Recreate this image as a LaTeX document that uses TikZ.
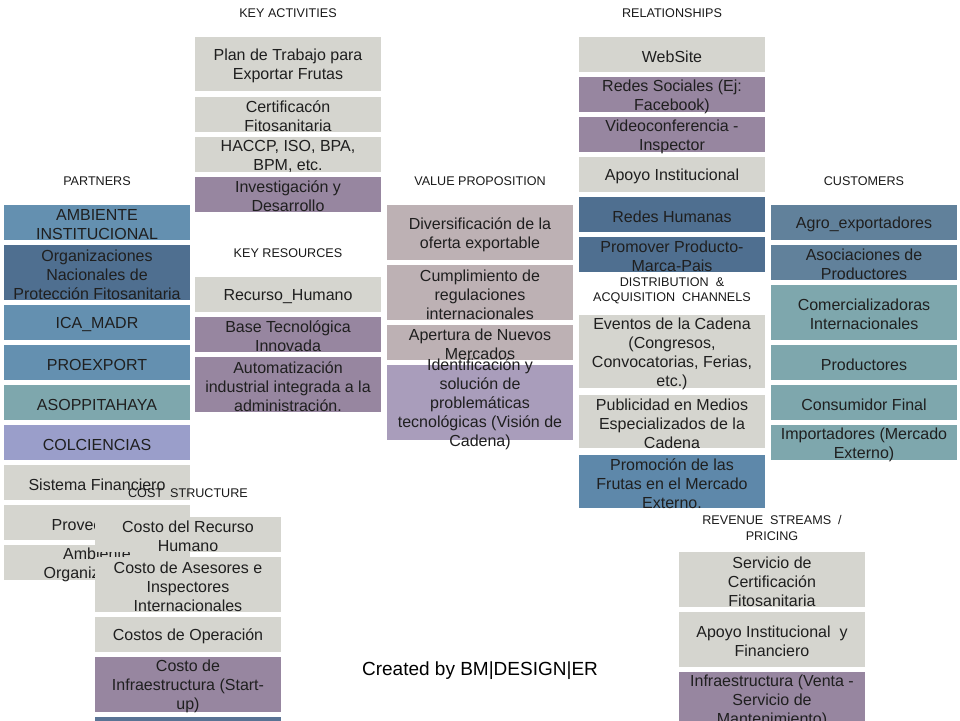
\documentclass[tikz,border=0pt]{standalone}
\usepackage{fontspec}
\setmainfont{Liberation Sans}
\begin{document}
\begin{tikzpicture}[x=1pt,y=-1pt,
  cell/.style={align=center,inner sep=0,yshift=-2pt,font=\fontsize{16}{19}\selectfont,text=black!88},
  hdr/.style={align=center,inner sep=0,font=\fontsize{12.6}{15.5}\selectfont,text=black!90}]
\definecolor{stone}{HTML}{D5D5CF}
\definecolor{plum}{HTML}{9786A0}
\definecolor{mauve}{HTML}{BDB1B4}
\definecolor{lilac}{HTML}{A99DBB}
\definecolor{slate}{HTML}{4F6F90}
\definecolor{steel}{HTML}{6490B0}
\definecolor{dusk}{HTML}{5E88AA}
\definecolor{fog}{HTML}{61819B}
\definecolor{teal}{HTML}{7EA7AD}
\definecolor{periwinkle}{HTML}{9A9ECA}
\definecolor{navyish}{HTML}{5A7495}
\useasboundingbox (0,0) rectangle (960,720);
\clip (0,0) rectangle (960,720);
% section titles
\node[hdr] (hka) at (288,13) {KEY ACTIVITIES};
\node[hdr] (hrel) at (672,13) {RELATIONSHIPS};
\node[hdr] (hpa) at (97,181) {PARTNERS};
\node[hdr] (hvp) at (480,181) {VALUE PROPOSITION};
\node[hdr] (hcu) at (864,181) {CUSTOMERS};
\node[hdr] (hkr) at (288,253) {KEY RESOURCES};
\node[hdr] (hdc) at (672,291) {DISTRIBUTION \ \&\\ACQUISITION \ CHANNELS};
\node[hdr] (hrs) at (772,528) {REVENUE \ STREAMS \ /\\PRICING};
% partners
\foreach \nm/\yy/\hh/\crlr/\txt in {pa1/205/35/steel/{AMBIENTE\\INSTITUCIONAL},
  pa2/245/55/slate/{Organizaciones\\Nacionales de\\Protección Fitosanitaria},
  pa3/305/35/steel/{ICA\_MADR}, pa4/345/35/steel/{PROEXPORT},
  pa5/385/35/teal/{ASOPPITAHAYA}, pa6/425/35/periwinkle/{COLCIENCIAS},
  pa7/465/35/stone/{Sistema Financiero}, pa8/505/35/stone/{Proveedores},
  pa9/545/35/stone/{Ambiente\\Organizacional}}
{ \fill[\crlr] (4,\yy) rectangle ++(186,\hh);
  \node[cell] (\nm) at (97,\yy+\hh/2) {\txt};}
% key activities
\foreach \nm/\yy/\hh/\crlr/\txt in {ka1/37/54/stone/{Plan de Trabajo para\\Exportar Frutas},
  ka2/97/35/stone/{Certificacón\\Fitosanitaria}, ka3/137/35/stone/{HACCP, ISO, BPA,\\BPM, etc.},
  ka4/177/35/plum/{Investigación y\\Desarrollo},
  kr1/277/35/stone/{Recurso\_Humano}, kr2/317/35/plum/{Base Tecnológica\\Innovada},
  kr3/357/55/plum/{Automatización\\industrial integrada a la\\administración.}}
{ \fill[\crlr] (195,\yy) rectangle ++(186,\hh);
  \node[cell] (\nm) at (288,\yy+\hh/2) {\txt};}
% value proposition
\foreach \nm/\yy/\hh/\crlr/\txt in {vp1/205/55/mauve/{Diversificación de la\\oferta exportable},
  vp2/265/55/mauve/{Cumplimiento de\\regulaciones\\internacionales},
  vp3/325/35/mauve/{Apertura de Nuevos\\Mercados},
  vp4/365/75/lilac/{Identificación y\\solución de\\problemáticas\\tecnológicas (Visión de\\Cadena)}}
{ \fill[\crlr] (387,\yy) rectangle ++(186,\hh);
  \node[cell] (\nm) at (480,\yy+\hh/2) {\txt};}
% relationships and channels
\foreach \nm/\yy/\hh/\crlr/\txt in {re1/37/35/stone/{WebSite},
  re2/77/35/plum/{Redes Sociales (Ej:\\Facebook)}, re3/117/35/plum/{Videoconferencia -\\Inspector},
  re4/157/35/stone/{Apoyo Institucional}, re5/197/35/slate/{Redes Humanas},
  re6/237/35/slate/{Promover Producto-\\Marca-Pais},
  dc1/315/73/stone/{Eventos de la Cadena\\(Congresos,\\Convocatorias, Ferias,\\etc.)},
  dc2/395/53/stone/{Publicidad en Medios\\Especializados de la\\Cadena},
  dc3/455/53/dusk/{Promoción de las\\Frutas en el Mercado\\Externo.}}
{ \fill[\crlr] (579,\yy) rectangle ++(186,\hh);
  \node[cell] (\nm) at (672,\yy+\hh/2) {\txt};}
% customers
\foreach \nm/\yy/\hh/\crlr/\txt in {cu1/205/35/fog/{Agro\_exportadores},
  cu2/245/35/fog/{Asociaciones de\\Productores}, cu3/285/55/teal/{Comercializadoras\\Internacionales},
  cu4/345/35/teal/{Productores}, cu5/385/35/teal/{Consumidor Final},
  cu6/425/35/teal/{Importadores (Mercado\\Externo)}}
{ \fill[\crlr] (771,\yy) rectangle ++(186,\hh);
  \node[cell] (\nm) at (864,\yy+\hh/2) {\txt};}
% cost structure
\node[hdr] (hcs) at (188,493) {COST \ STRUCTURE};
\foreach \nm/\yy/\hh/\crlr/\txt in {cs1/517/35/stone/{Costo del Recurso\\Humano},
  cs2/557/55/stone/{Costo de Asesores e\\Inspectores\\Internacionales},
  cs3/617/35/stone/{Costos de Operación},
  cs4/657/55/plum/{Costo de\\Infraestructura (Start-\\up)}, cs5/717/35/navyish/{}}
{ \fill[\crlr] (95,\yy) rectangle ++(186,\hh);
  \node[cell] (\nm) at (188,\yy+\hh/2) {\txt};}
% revenue streams
\foreach \nm/\yy/\hh/\crlr/\txt in {rs1/552/55/stone/{Servicio de\\Certificación\\Fitosanitaria},
  rs2/612/55/stone/{Apoyo Institucional \ y\\Financiero},
  rs3/672/55/plum/{Infraestructura (Venta -\\Servicio de\\Mantenimiento)}}
{ \fill[\crlr] (679,\yy) rectangle ++(186,\hh);
  \node[cell] (\nm) at (772,\yy+\hh/2) {\txt};}
\node[font=\fontsize{19}{22}\selectfont,inner sep=0] (credit) at (480,671) {Created by BM|DESIGN|ER};
\end{tikzpicture}
\end{document}
